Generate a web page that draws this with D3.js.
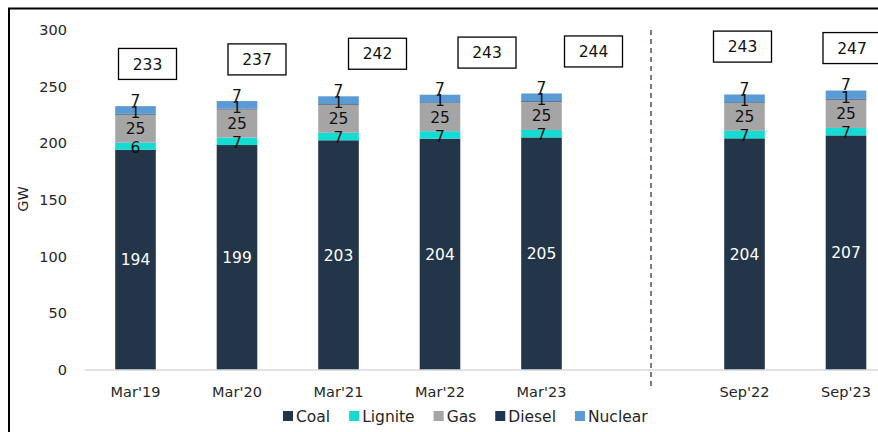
<!DOCTYPE html>
<html>
<head>
<meta charset="utf-8">
<script src="https://cdn.jsdelivr.net/npm/d3@7"></script>
<style>
  html, body { margin: 0; padding: 0; background: #fff; }
  svg text { font-family: "DejaVu Sans", sans-serif; }
</style>
</head>
<body>
<svg id="chart" width="878" height="432"></svg>
<script>
// ---- data ----
const categories = ["Mar'19", "Mar'20", "Mar'21", "Mar'22", "Mar'23", "", "Sep'22", "Sep'23"];
const coal    = [194.4, 198.5, 202.7, 204.1, 205.2, null, 204.4, 207.0];
const lignite = [6.1, 6.6, 6.6, 6.6, 6.6, null, 6.6, 6.6];
const gas     = [24.9, 24.9, 24.9, 24.9, 24.8, null, 24.8, 25.0];
const diesel  = [0.6, 0.5, 0.5, 0.5, 0.6, null, 0.5, 0.6];
const nuclear = [6.8, 6.8, 6.8, 6.8, 6.8, null, 6.8, 7.4];
const totals  = [233, 237, 242, 243, 244, null, 243, 247];
const yTicks  = [0, 50, 100, 150, 200, 250, 300];
const seriesNames = ["Coal", "Lignite", "Gas", "Diesel", "Nuclear"];
const seriesColors = ["#233548", "#14dcd2", "#a5a5a5", "#1c3554", "#5b9bd5"];
// manual nudges of the total call-out boxes (as placed in the source)
const boxNudgeX = [12, 20, 39, 47, 52, 0, -2, 6];
const boxNudgeY = [0, 0, 0, 0, 0, 0, -6, 0];

const seriesValues = [coal, lignite, gas, diesel, nuclear];
const FONT = "'DejaVu Sans', sans-serif";

const svg = d3.select("#chart");

// outer frame (cropped chart border)
svg.append("rect").attr("x", 9).attr("y", 8.5).attr("width", 1000).attr("height", 1000)
  .attr("fill", "none").attr("stroke", "#000").attr("stroke-width", 2);

const x = d3.scaleBand().domain(categories).range([84.75, 896.75])
  .paddingInner(0.6).paddingOuter(0.3);
const y = d3.scaleLinear().domain([0, 300]).range([370, 30]);

// stacked data
const rows = categories.map((c, i) => {
  const r = { cat: c, idx: i };
  seriesNames.forEach((n, k) => r[n] = seriesValues[k][i] || 0);
  return r;
});
const stack = d3.stack().keys(seriesNames)(rows);
const barRows = rows.filter(r => r.cat !== "");

// bars
stack.forEach((layer, k) => {
  svg.append("g").selectAll("rect")
    .data(layer.filter(d => d.data.cat !== ""))
    .join("rect")
    .attr("x", d => x(d.data.cat))
    .attr("width", x.bandwidth())
    .attr("y", d => y(d[1]))
    .attr("height", d => y(d[0]) - y(d[1]))
    .attr("fill", seriesColors[k]);
});

// axis line
svg.append("line").attr("x1", x.range()[0]).attr("x2", 878)
  .attr("y1", y(0)).attr("y2", y(0)).attr("stroke", "#d9d9d9").attr("stroke-width", 1.5);

// y axis labels
const yAxis = d3.axisLeft(y).tickValues(yTicks).tickSize(0).tickPadding(0);
const gy = svg.append("g").attr("transform", "translate(67,0)").call(yAxis);
gy.select(".domain").remove();
gy.selectAll("text").attr("font-size", 14.5).attr("fill", "#262626").style("font-family", FONT);

// x axis labels
const xAxis = d3.axisBottom(x).tickSize(0).tickPadding(0);
const gx = svg.append("g").attr("transform", `translate(0,${y(0) + 17})`).call(xAxis);
gx.select(".domain").remove();
gx.selectAll("text").attr("font-size", 14.5).attr("fill", "#262626").style("font-family", FONT);

// GW label
svg.append("text").attr("transform", `translate(28,199) rotate(-90)`)
  .attr("text-anchor", "middle").attr("font-size", 14.5).attr("fill", "#262626").text("GW");

// segment labels
stack.forEach((layer, k) => {
  const name = seriesNames[k];
  svg.append("g").selectAll("text")
    .data(layer.filter(d => d.data.cat !== ""))
    .join("text")
    .attr("x", d => x(d.data.cat) + x.bandwidth() / 2)
    .attr("y", d => {
      if (name === "Nuclear") return y(d[1]) - 6;
      if (name === "Diesel") return (y(d[0]) + y(d[1])) / 2 - 2;
      if (name === "Lignite") return (y(d[0]) + y(d[1])) / 2 + 1;
      return (y(d[0]) + y(d[1])) / 2;
    })
    .attr("dy", "0.36em")
    .attr("text-anchor", "middle")
    .attr("font-size", 15.5)
    .attr("fill", name === "Coal" ? "#ffffff" : "#111")
    .text(d => Math.round(d.data[name]));
});

// total call-out boxes
const boxW = 58, boxH = 31;
const gb = svg.append("g");
barRows.forEach(r => {
  const cx = x(r.cat) + x.bandwidth() / 2 + boxNudgeX[r.idx];
  const cy = y(totals[r.idx]) - 42 + boxNudgeY[r.idx];
  gb.append("rect").attr("x", cx - boxW / 2).attr("y", cy - boxH / 2)
    .attr("width", boxW).attr("height", boxH)
    .attr("fill", "#fff").attr("stroke", "#000").attr("stroke-width", 1.3);
  gb.append("text").attr("x", cx).attr("y", cy).attr("dy", "0.36em")
    .attr("text-anchor", "middle").attr("font-size", 15.5).attr("fill", "#111")
    .text(totals[r.idx]);
});

// dashed divider in the gap
const gapX = x("") + x.bandwidth() / 2 + 8;
svg.append("line").attr("x1", gapX).attr("x2", gapX)
  .attr("y1", y(300)).attr("y2", y(0) + 18)
  .attr("stroke", "#44546a").attr("stroke-width", 1.5).attr("stroke-dasharray", "5,4");

// legend
const lg = svg.append("g").attr("transform", "translate(283,416)");
let lx = 0;
seriesNames.forEach((n, k) => {
  lg.append("rect").attr("x", lx).attr("y", -5).attr("width", 10).attr("height", 10)
    .attr("fill", seriesColors[k]);
  const t = lg.append("text").attr("x", lx + 13).attr("y", 0).attr("dy", "0.36em")
    .attr("font-size", 15.5).attr("fill", "#262626").text(n);
  lx += 13 + t.node().getComputedTextLength() + 19;
});
</script>
</body>
</html>
